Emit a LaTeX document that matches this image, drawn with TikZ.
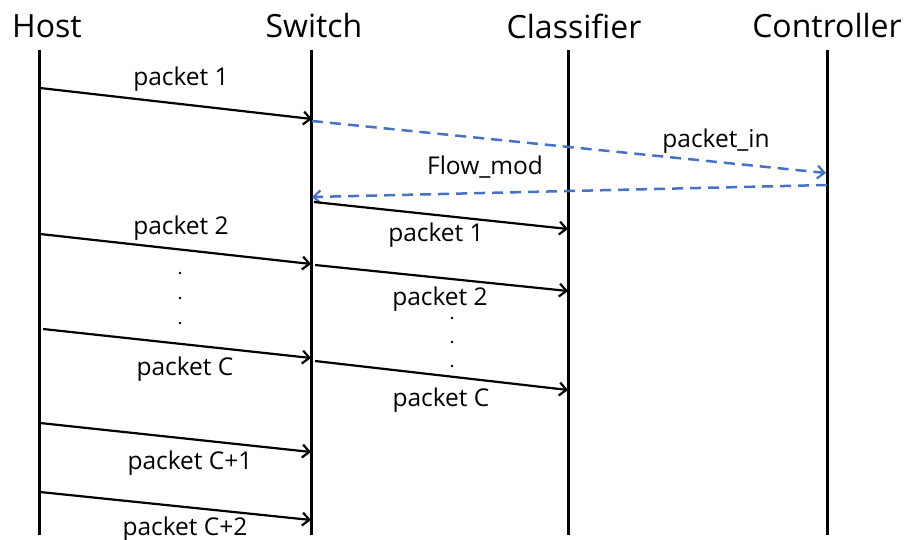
\documentclass[tikz,border=0pt]{standalone}
\usepackage{fontspec}
\setmainfont{Open Sans}
\usetikzlibrary{arrows.meta}
\definecolor{dblue}{RGB}{68,114,196}
\begin{document}
\begin{tikzpicture}[x=1pt,y=-1pt,
  life/.style={line width=3pt},
  title/.style={font=\fontsize{32}{36}\selectfont, inner sep=0pt},
  lbl/.style={font=\fontsize{24.5}{28}\selectfont, inner sep=0pt, yshift=-2pt},
  msg/.style={line width=2.2pt, -{Straight Barb[length=7pt,width=13pt,line width=2.2pt]}},
  ctrl/.style={line width=2.5pt, dblue, dash pattern=on 11pt off 7pt, -{Straight Barb[length=7pt,width=13pt,line width=2.2pt]}},
  dot/.style={circle, fill, inner sep=0pt, minimum size=2.6pt}]
\useasboundingbox (0,0) rectangle (906,540);
% titles
\node[title] (tHost) at (47,26) {Host};
\node[title] (tSwitch) at (314,26) {Switch};
\node[title] (tClass) at (574,26) {Classifier};
\node[title] (tCtrl) at (827,26) {Controller};
% lifelines
\coordinate (h0) at (39,50); \coordinate (h1) at (39,535);
\coordinate (s0) at (311,50); \coordinate (s1) at (311,535);
\coordinate (c0) at (568,50); \coordinate (c1) at (568,535);
\coordinate (k0) at (827,50); \coordinate (k1) at (827,535);
\draw[life] (h0) -- (h1);
\draw[life] (s0) -- (s1);
\draw[life] (c0) -- (c1);
\draw[life] (k0) -- (k1);
% endpoints
\coordinate (a1s) at (40,88);   \coordinate (a1e) at (312,119);
\coordinate (pis) at (312,121); \coordinate (pie) at (826,173);
\coordinate (fms) at (827,185); \coordinate (fme) at (312,197);
\coordinate (b1s) at (314,202); \coordinate (b1e) at (568,229);
\coordinate (a2s) at (40,234);  \coordinate (a2e) at (311,264);
\coordinate (b2s) at (315,265); \coordinate (b2e) at (568,291);
\coordinate (aCs) at (43,329);  \coordinate (aCe) at (311,358);
\coordinate (bCs) at (315,361); \coordinate (bCe) at (568,390);
\coordinate (aC1s) at (40,423); \coordinate (aC1e) at (311,452);
\coordinate (aC2s) at (40,492); \coordinate (aC2e) at (311,520);
% messages
\draw[msg] (a1s) -- (a1e);
\draw[ctrl] (pis) -- (pie);
\draw[ctrl] (fms) -- (fme);
\draw[msg] (b1s) -- (b1e);
\draw[msg] (a2s) -- (a2e);
\draw[msg] (b2s) -- (b2e);
\draw[msg] (aCs) -- (aCe);
\draw[msg] (bCs) -- (bCe);
\draw[msg] (aC1s) -- (aC1e);
\draw[msg] (aC2s) -- (aC2e);
% labels
\node[lbl] (l1) at (181,77) {packet 1};
\node[lbl] (lpi) at (716,139) {packet\_in};
\node[lbl] (lfm) at (485,165) {Flow\_mod};
\node[lbl] (l1b) at (436,233) {packet 1};
\node[lbl] (l2) at (181,226) {packet 2};
\node[lbl] (l2b) at (440,297) {packet 2};
\node[lbl] (lC) at (185,367) {packet C};
\node[lbl] (lCb) at (441,398) {packet C};
\node[lbl] (lC1) at (190,461) {packet C+1};
\node[lbl] (lC2) at (185,527) {packet C+2};
% dots
\node[dot] (d1) at (180,273) {};
\node[dot] (d2) at (180,298) {};
\node[dot] (d3) at (180,323) {};
\node[dot] (e1) at (452,318) {};
\node[dot] (e2) at (452,342) {};
\node[dot] (e3) at (452,366) {};
\end{tikzpicture}
\end{document}
